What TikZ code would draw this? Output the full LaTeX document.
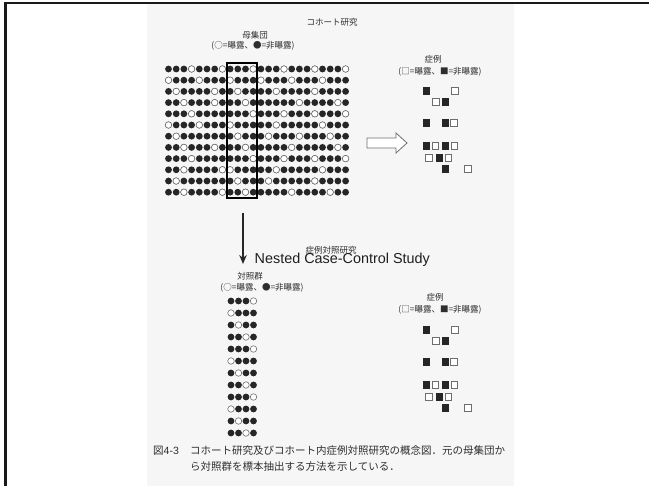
\documentclass[tikz,border=0pt]{standalone}
\usepackage{fontspec}
\setmainfont{Liberation Sans}
\newfontfamily\jp{Noto Sans CJK JP}
\usetikzlibrary{arrows.meta}
\definecolor{pagebg}{HTML}{F6F6F6}
\definecolor{ink}{HTML}{262626}
\definecolor{txt}{HTML}{2E2E2E}
\definecolor{ring}{HTML}{6E6E6E}
\begin{document}
\begin{tikzpicture}[x=1pt,y=-1pt,
  jtext/.style={font=\jp\fontsize{8.5}{9}\selectfont, text=txt, inner sep=0pt},
  captext/.style={font=\jp\fontsize{10.5}{12}\selectfont, text=txt, inner sep=0pt, anchor=west},
  dotb/.style={fill=ink},
  dotw/.style={fill=white, draw=ring, line width=0.6pt},
  sqb/.style={fill=ink, draw=ink, line width=0.4pt},
  sqw/.style={fill=white, draw=ring, line width=0.8pt},
]
\useasboundingbox (0,0) rectangle (649,486);
\fill[white] (0,0) rectangle (649,486);
\fill[pagebg] (147,4) rectangle (514,486);
\draw[line width=2.4pt, black!90] (5.3,486) -- (5.3,2.8) -- (649,2.8);

% titles
\node[jtext] (cohort) at (332,22) {コホート研究};
\node[jtext] (popT) at (255,35) {母集団};
\node[jtext] (popL) at (253,45.5) {(○=曝露、●=非曝露)};

% population grid 24 x 12
\foreach \r/\ws in {0/{3,7,11,15,19,23},1/{0,4,8,12,16,20},2/{1,6,9,14,19},3/{2,6,10,17,22},4/{3,11,15,19,23},5/{0,4,8,14,20},6/{1,9,13,17,21},7/{2,6,10,16,22},8/{3,11,15,19,23},9/{2,7,8,14,20},10/{1,9,13,19},11/{2,7,10,16,21}}{
  \foreach \c in {0,...,23}{
    \fill[dotb] (168.5+7.7*\c, 69+11.2*\r) circle (3.4);
  }
  \foreach \c in \ws{
    \draw[dotw] (168.5+7.7*\c, 69+11.2*\r) circle (3.25);
  }
}
\node[draw=black, line width=2pt, minimum width=30pt, minimum height=135pt, inner sep=0pt] (sel) at (242,130.5) {};

% cases (upper)
\node[jtext] (caseT1) at (433,59.5) {症例};
\node[jtext] (caseL1) at (440,72) {(□=曝露、■=非曝露)};
\foreach \x/\y/\s in {426/91/sqb,455/91/sqw,436/102/sqw,445/102/sqb,426/123/sqb,445/123/sqb,454/123/sqw,426/146/sqb,435.5/146/sqw,445/146/sqb,454.5/146/sqw,429/158/sqw,439/158/sqb,448.5/158/sqw,445/169/sqb,468/169/sqw}{
  \draw[\s] (\x-3.3,\y-3.3) rectangle (\x+3.3,\y+3.3);
}

% hollow arrow
\draw[fill=white, draw=ring, line width=0.8pt] (367,138) -- (396,138) -- (396,133) -- (407,143) -- (396,153) -- (396,148) -- (367,148) -- cycle;

% down arrow
\coordinate (dtop) at (243,213);
\coordinate (dbot) at (243,264);
\draw[line width=1.4pt, ink, -{Stealth[length=9pt,width=7.5pt]}] (dtop) -- (dbot);

% labels middle
\node[jtext] (nccJ) at (331,250) {症例対照研究};
\node[font=\fontsize{14.4}{16}\selectfont, text=black!88, inner sep=0pt, anchor=west] (ncc) at (254.5,259.5) {Nested Case-Control Study};
\node[jtext] (ctrlT) at (250,276) {対照群};
\node[jtext] (ctrlL) at (262,287.5) {(○=曝露、●=非曝露)};

% control group 4 x 12
\foreach \r in {0,...,11}{
  \foreach \c in {0,...,3}{
    \pgfmathtruncatemacro{\w}{mod(\c-\r+97,4)==0 ? 1 : 0}
    \ifnum\w=1
      \draw[dotw] (231+7.5*\c, 301+12*\r) circle (3.25);
    \else
      \fill[dotb] (231+7.5*\c, 301+12*\r) circle (3.4);
    \fi
  }
}

% cases (lower)
\node[jtext] (caseT2) at (435,297.5) {症例};
\node[jtext] (caseL2) at (440,309.5) {(□=曝露、■=非曝露)};
\begin{scope}[shift={(0,239)}]
\foreach \x/\y/\s in {426/91/sqb,455/91/sqw,436/102/sqw,445/102/sqb,426/123/sqb,445/123/sqb,454/123/sqw,426/146/sqb,435.5/146/sqw,445/146/sqb,454.5/146/sqw,429/158/sqw,439/158/sqb,448.5/158/sqw,445/169/sqb,468/169/sqw}{
  \draw[\s] (\x-3.3,\y-3.3) rectangle (\x+3.3,\y+3.3);
}
\end{scope}

% caption
\node[captext, font=\fontsize{10.5}{12}\selectfont] (figno) at (153,451) {\jp 図\normalfont 4-3};
\node[captext] (cap1) at (190,451) {コホート研究及びコホート内症例対照研究の概念図．元の母集団か};
\node[captext] (cap2) at (190,467) {ら対照群を標本抽出する方法を示している．};
\end{tikzpicture}
\end{document}
